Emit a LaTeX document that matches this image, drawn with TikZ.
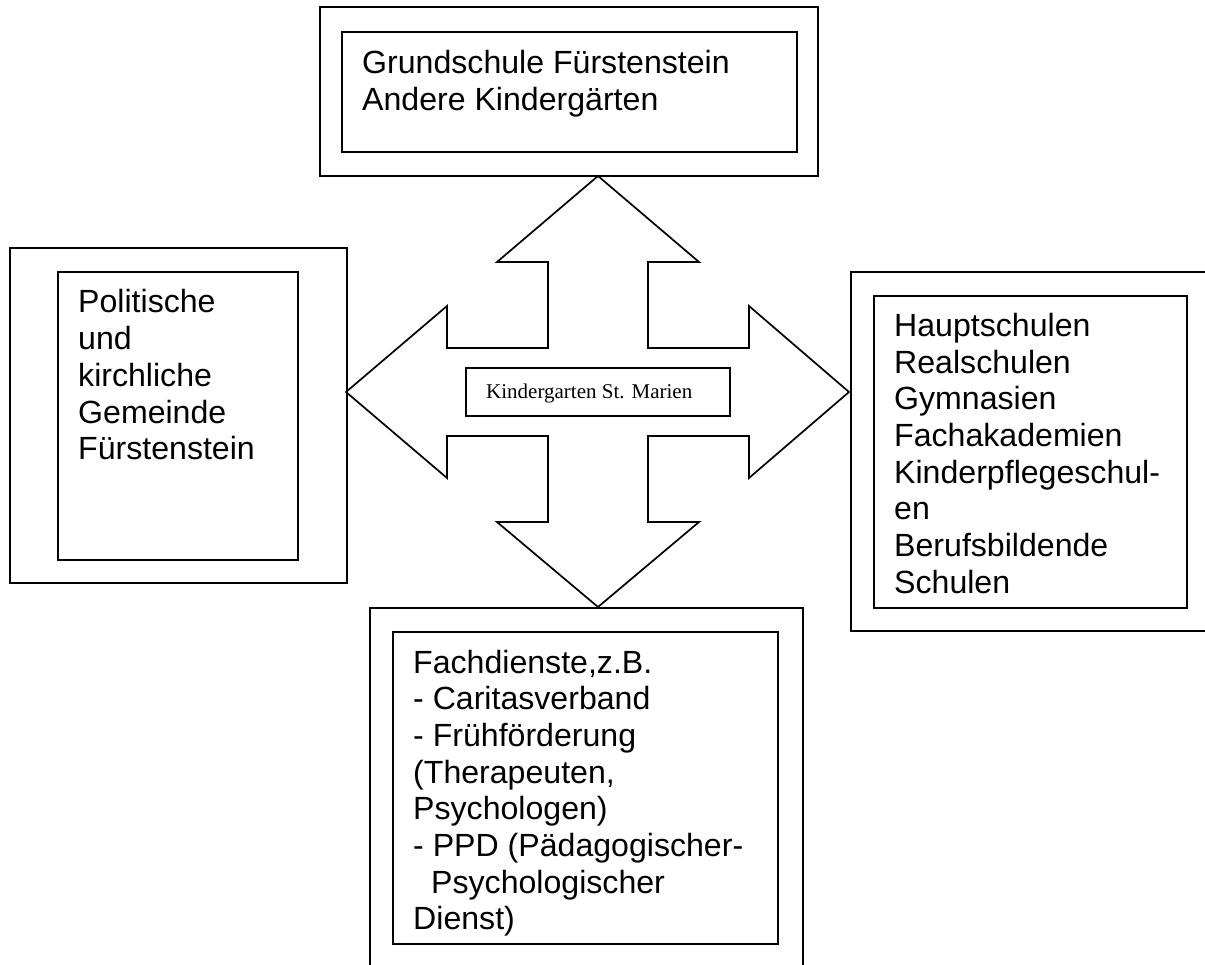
\documentclass[tikz,border=0pt]{standalone}
\usepackage{fontspec}
\setmainfont{Liberation Sans}
\newfontfamily\timesf{Liberation Serif}
\newcommand{\bigtxt}{\fontsize{32.1}{36.7}\selectfont}
\begin{document}
\begin{tikzpicture}[x=1pt,y=-1pt,
  outer/.style={draw=black,line width=1.8pt},
  inner/.style={draw=black,line width=1.4pt},
  txt/.style={anchor=base west,inner sep=0pt,font=\bigtxt},
  arrowshape/.style={draw=black,line width=1.7pt,line join=miter}]
\useasboundingbox (0,0) rectangle (1205,965);
\fill[white] (0,0) rectangle (1205,965);
% top box
\draw[outer] (320,7) rectangle (818,176);
\draw[inner] (342,32) rectangle (797,152);
\node[txt] (top) at (362,73.5) {\begin{tabular}[t]{@{}l@{}}Grundschule Fürstenstein\\Andere Kindergärten\end{tabular}};
% left box
\draw[outer] (10,248) rectangle (347,583);
\draw[inner] (58,272) rectangle (298,560);
\node[txt] (left) at (78,313) {\begin{tabular}[t]{@{}l@{}}Politische\\und\\kirchliche\\Gemeinde\\Fürstenstein\end{tabular}};
% right box (cut at page edge)
\draw[outer] (1206,272) -- (851,272) -- (851,631) -- (1206,631);
\draw[inner] (874,296) rectangle (1187,608);
\node[txt] (right) at (894,336.5) {\begin{tabular}[t]{@{}l@{}}Hauptschulen\\Realschulen\\Gymnasien\\Fachakademien\\Kinderpflegeschul-\\en\\Berufsbildende\\Schulen\end{tabular}};
% bottom box (cut at page edge)
\draw[outer] (370,966) -- (370,608) -- (803,608) -- (803,966);
\draw[inner] (393,632) rectangle (778,944);
\node[txt] (bottom) at (413,673) {\begin{tabular}[t]{@{}l@{}}Fachdienste,z.B.\\- Caritasverband\\- Frühförderung\\(Therapeuten,\\Psychologen)\\- PPD (Pädagogischer-\\\hspace*{18pt}Psychologischer\\Dienst)\end{tabular}};
% four-way arrow
\draw[arrowshape] (598,176) -- (699,262) -- (648,262) -- (648,348) -- (749,348) -- (749,306)
  -- (849,392) -- (749,478) -- (749,436) -- (648,436) -- (648,522) -- (699,522)
  -- (598,607) -- (497,522) -- (548,522) -- (548,436) -- (447,436) -- (447,478)
  -- (346,392) -- (447,306) -- (447,348) -- (548,348) -- (548,262) -- (497,262) -- cycle;
% center box
\draw[inner] (466,368) rectangle (730,416);
\node[anchor=base west,inner sep=0pt,font=\timesf\fontsize{21}{24}\selectfont] (center) at (486,398.3) {Kindergarten St. Marien};
\end{tikzpicture}
\end{document}
